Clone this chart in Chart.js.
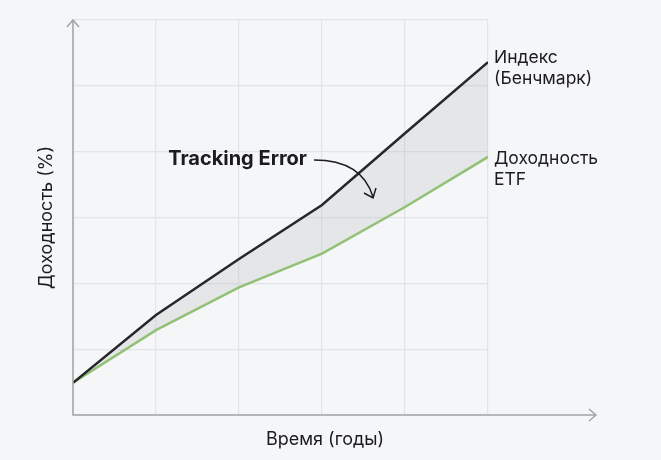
<!DOCTYPE html>
<html>
<head>
<meta charset="utf-8">
<script src="https://cdn.jsdelivr.net/npm/chart.js@4"></script>
<style>
  html, body { margin: 0; padding: 0; background: #f5f6f8; }
  #wrap { width: 661px; height: 460px; position: relative; }
</style>
</head>
<body>
<div id="wrap"><canvas id="teChart"></canvas></div>
<script>
// years on the x axis
var years = [0, 1, 2, 3, 4, 5];
// benchmark index and ETF returns (grid units)
var indexValues = [0.49, 1.52, 2.37, 3.19, 4.28, 5.36];
var etfValues = [0.49, 1.29, 1.94, 2.45, 3.16, 3.92];

var xTitle = 'Время (годы)';
var yTitle = 'Доходность (%)';
var indexLabel = ['Индекс', '(Бенчмарк)'];
var etfLabel = ['Доходность', 'ETF'];
var noteText = 'Tracking Error';

var FONT = 'Inter, "Noto Sans", sans-serif';

function toPoints(vals) {
  return vals.map(function(v, i) { return {x: years[i], y: v}; });
}

// axes with arrows, labels and the curved pointer
var decor = {
  id: 'decor',
  afterDraw: function(chart) {
    var ctx = chart.ctx;
    var a = chart.chartArea;
    var xs = chart.scales.x, ys = chart.scales.y;
    ctx.save();

    // axes
    ctx.strokeStyle = '#a3a4a8';
    ctx.lineWidth = 1.5;
    ctx.beginPath();
    ctx.moveTo(a.left, a.top);
    ctx.lineTo(a.left, a.bottom);
    ctx.lineTo(596, a.bottom);
    ctx.stroke();
    // arrow heads
    ctx.beginPath();
    ctx.moveTo(a.left - 6, a.top + 7);
    ctx.lineTo(a.left, a.top);
    ctx.lineTo(a.left + 6, a.top + 7);
    ctx.moveTo(589, a.bottom - 6);
    ctx.lineTo(596, a.bottom);
    ctx.lineTo(589, a.bottom + 6);
    ctx.stroke();

    ctx.fillStyle = '#1c1c1e';
    ctx.font = '18px ' + FONT;
    ctx.textBaseline = 'middle';

    // axis titles
    ctx.textAlign = 'center';
    ctx.fillText(xTitle, 325, 440);
    ctx.save();
    ctx.translate(47, (a.top + a.bottom) / 2);
    ctx.rotate(-Math.PI / 2);
    ctx.fillText(yTitle, 0, 0);
    ctx.restore();

    // series labels at the line ends
    ctx.textAlign = 'left';
    ctx.font = '17.5px ' + FONT;
    var lx = xs.getPixelForValue(years[years.length - 1]) + 6;
    var iy = ys.getPixelForValue(indexValues[indexValues.length - 1]);
    ctx.fillText(indexLabel[0], lx, iy - 4);
    ctx.fillText(indexLabel[1], lx, iy + 17);
    var ey = ys.getPixelForValue(etfValues[etfValues.length - 1]);
    ctx.fillText(etfLabel[0], lx, ey + 2);
    ctx.fillText(etfLabel[1], lx, ey + 23);

    // Tracking Error note
    ctx.font = 'bold 20px ' + FONT;
    ctx.textAlign = 'right';
    ctx.fillText(noteText, 307, 159);

    ctx.strokeStyle = '#1c1c1e';
    ctx.lineWidth = 1.5;
    ctx.beginPath();
    ctx.moveTo(314, 160);
    ctx.quadraticCurveTo(362, 160, 373, 197);
    ctx.stroke();
    ctx.beginPath();
    ctx.moveTo(364, 193);
    ctx.lineTo(373, 198);
    ctx.lineTo(376, 188);
    ctx.stroke();

    ctx.restore();
  }
};

var ctx = document.getElementById('teChart').getContext('2d');
var chart = new Chart(ctx, {
  type: 'line',
  data: {
    datasets: [{
      label: 'Индекс (Бенчмарк)',
      data: toPoints(indexValues),
      borderColor: '#26272a',
      borderWidth: 2.5,
      backgroundColor: 'rgba(170, 172, 178, 0.22)',
      fill: '+1',
      pointRadius: 0,
      tension: 0
    }, {
      label: 'Доходность ETF',
      data: toPoints(etfValues),
      borderColor: '#8fc46f',
      borderWidth: 2.5,
      fill: false,
      pointRadius: 0,
      tension: 0
    }]
  },
  plugins: [decor],
  options: {
    responsive: true,
    maintainAspectRatio: false,
    animation: false,
    layout: { padding: { left: 73, right: 173, top: 20, bottom: 45 } },
    plugins: {
      legend: { display: false },
      tooltip: { enabled: false }
    },
    scales: {
      x: {
        type: 'linear',
        min: 0,
        max: 5,
        ticks: { display: false, stepSize: 1 },
        grid: { color: '#e3e4e7', lineWidth: 1.2, drawTicks: false },
        border: { display: false },
        afterFit: function(s) { s.height = 0; }
      },
      y: {
        min: 0,
        max: 6,
        ticks: { display: false, stepSize: 1 },
        grid: { color: '#e3e4e7', lineWidth: 1.2, drawTicks: false },
        border: { display: false },
        afterFit: function(s) { s.width = 0; }
      }
    }
  }
});
</script>
</body>
</html>
